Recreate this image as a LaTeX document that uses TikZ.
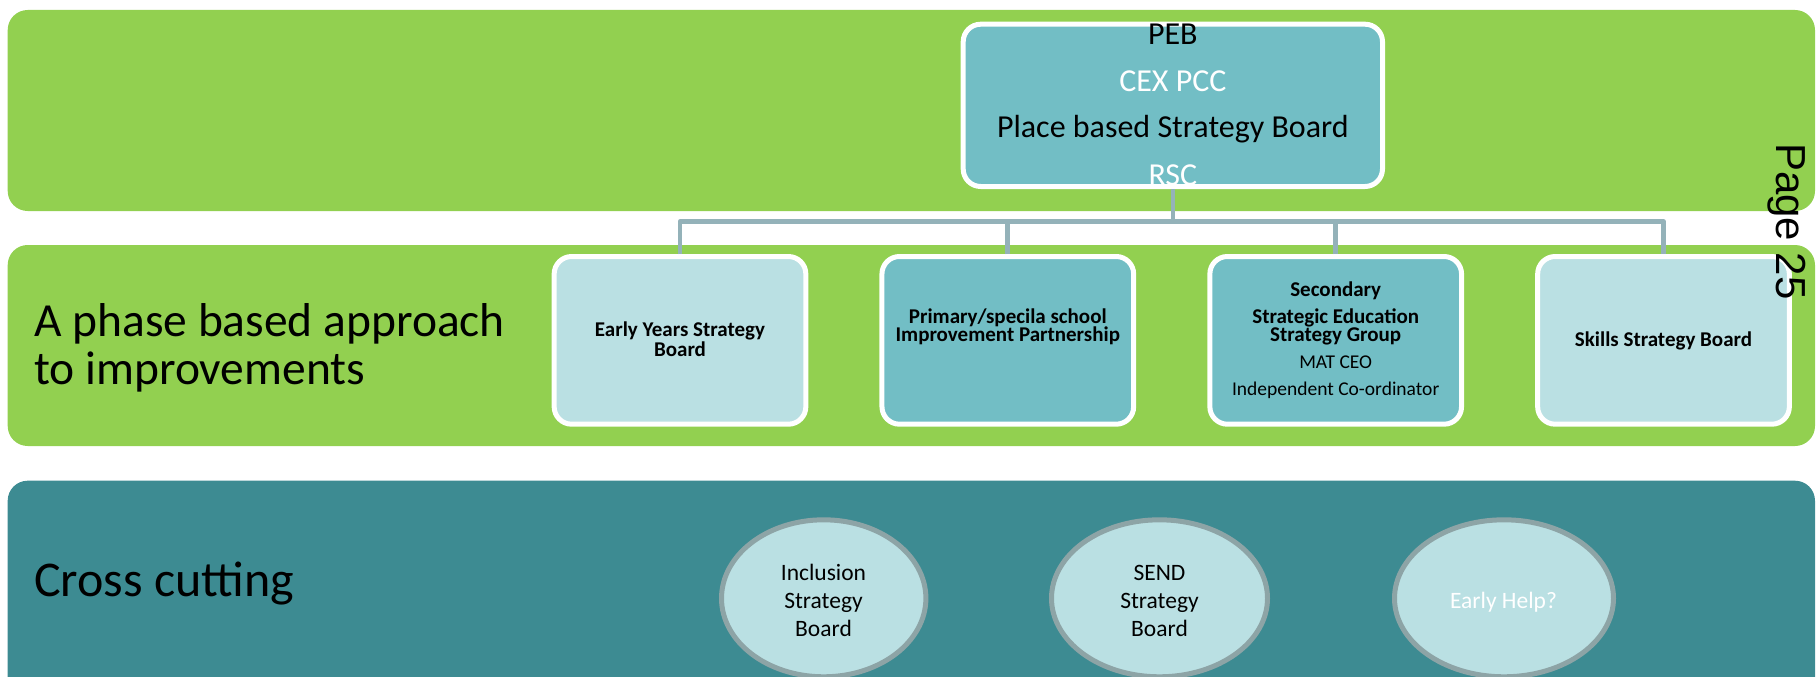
\documentclass[tikz,border=0pt]{standalone}
\usepackage{fontspec}
\setmainfont{Carlito}
\newfontfamily\pagefont{Liberation Sans}
\usetikzlibrary{shapes.geometric}
\definecolor{bandgreen}{RGB}{146,208,80}
\definecolor{bandteal}{RGB}{61,139,146}
\definecolor{boxmid}{RGB}{114,190,197}
\definecolor{boxlight}{RGB}{186,224,227}
\definecolor{connector}{RGB}{148,178,185}
\definecolor{ellborder}{RGB}{141,164,166}
\begin{document}
\begin{tikzpicture}[x=1pt,y=-1pt,
  band/.style={rounded corners=20pt},
  board/.style={draw=white, line width=5pt, rounded corners=17.5pt,
    minimum width=251.7pt, minimum height=167.7pt, inner sep=0pt},
  conn/.style={draw=connector, line width=4.7pt, line join=round},
  ell/.style={ellipse, draw=ellborder, fill=boxlight, line width=5pt,
    inner sep=0pt, minimum height=157pt},
  txt/.style={inner sep=0pt, anchor=base},
  pebtext/.style={txt, font=\fontsize{32}{38}\selectfont},
  boldtext/.style={txt, font=\fontsize{21}{25}\selectfont\bfseries},
  regtext/.style={txt, font=\fontsize{19.5}{23}\selectfont},
  elltext/.style={txt, font=\fontsize{23.5}{28}\selectfont},
  bigtext/.style={inner sep=0pt, anchor=base west, font=\fontsize{47.5}{56}\selectfont}
]
\useasboundingbox (0,0) rectangle (1816,677);
\clip (0,0) rectangle (1816,677);

% bands
\fill[bandgreen, band] (7.7,10) rectangle (1815,211);
\fill[bandgreen, band] (7.7,245) rectangle (1815,446);
\fill[bandteal, band] (7.7,480.7) rectangle (1815,720);

% band labels
\node[bigtext] (lab2a) at (34,336) {A phase based approach};
\node[bigtext] (lab2b) at (34,384.3) {to improvements};
\node[bigtext, font=\fontsize{50}{56}\selectfont] (lab3) at (34,596) {Cross cutting};

% top board
\node[board, fill=boxmid, minimum width=419.3pt, minimum height=162.3pt] (peb) at (1172.85,105.35) {};
\node[pebtext] (peb1) at (1172.85,45) {PEB};
\node[pebtext, text=white] (peb2) at (1172.85,92) {CEX PCC};
\node[pebtext] (peb3) at (1172.85,137) {Place based Strategy Board};
\node[pebtext, text=white] (peb4) at (1172.85,185) {RSC};

% phase boards
\node[board, fill=boxlight] (b1) at (680,340.35) {};
\node[board, fill=boxmid] (b2) at (1007.8,340.35) {};
\node[board, fill=boxmid] (b3) at (1335.7,340.35) {};
\node[board, fill=boxlight] (b4) at (1663.5,340.35) {};

% connectors
\coordinate (bus) at (1172.85,221.7);
\draw[conn] (peb.south) -- (peb.south |- bus);
\draw[conn] (b1.north) |- (b4.north |- bus) -- (b4.north);
\draw[conn] (b2.north) -- (b2.north |- bus);
\draw[conn] (b3.north) -- (b3.north |- bus);

% phase board texts
\node[boldtext] (b1t1) at (680,336.7) {Early Years Strategy};
\node[boldtext] (b1t2) at (680,356) {Board};
\node[boldtext] (b2t1) at (1007.8,323.3) {Primary/specila school};
\node[boldtext] (b2t2) at (1007.8,341.7) {Improvement Partnership};
\node[boldtext] (b3t1) at (1335.7,296) {Secondary};
\node[boldtext] (b3t2) at (1335.7,323.3) {Strategic Education};
\node[boldtext] (b3t3) at (1335.7,341.7) {Strategy Group};
\node[regtext] (b3t4) at (1335.7,368.3) {MAT CEO};
\node[regtext] (b3t5) at (1335.7,395) {Independent Co-ordinator};
\node[boldtext] (b4t1) at (1663.5,346) {Skills Strategy Board};

% cross cutting ellipses
\node[ell, minimum width=204.4pt] (e1) at (823.7,598.3) {};
\node[ell, minimum width=216pt] (e2) at (1159.5,598.3) {};
\node[ell, minimum width=219pt] (e3) at (1504,598.3) {};
\node[elltext] (e1t1) at (823.5,580.7) {Inclusion};
\node[elltext] (e1t2) at (823.5,608.3) {Strategy};
\node[elltext] (e1t3) at (823.5,636.7) {Board};
\node[elltext] (e2t1) at (1159.5,580.7) {SEND};
\node[elltext] (e2t2) at (1159.5,608.3) {Strategy};
\node[elltext] (e2t3) at (1159.5,636.7) {Board};
\node[elltext, text=white] (e3t1) at (1503.5,608.3) {Early Help?};

% page stamp
\node[rotate=-90, anchor=base west, inner sep=0pt,
  font=\pagefont\fontsize{42}{42}\selectfont] (pg) at (1776,143) {Page 25};
\end{tikzpicture}
\end{document}
